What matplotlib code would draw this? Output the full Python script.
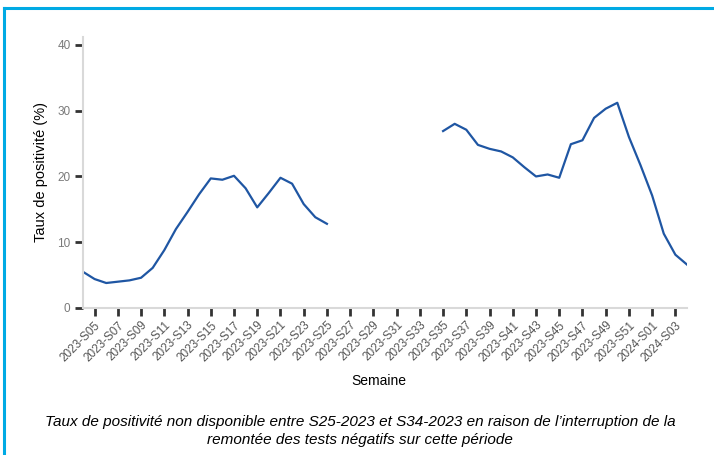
import numpy as np
import matplotlib
matplotlib.use('Agg')
from matplotlib import pyplot as plt
from matplotlib.lines import Line2D

# weeks 2023-S04 .. 2024-S04
weeks = ['2023-S%02d' % w for w in range(4, 53)] + ['2024-S%02d' % w for w in range(1, 5)]

# taux de positivite (%), NaN = non disponible (S26-S34)
taux_2023a = [5.5, 4.4, 3.8, 4.0, 4.2, 4.6, 6.1, 8.8, 12.0, 14.6, 17.3, 19.7,
              19.5, 20.1, 18.2, 15.3, 17.5, 19.8, 18.9, 15.8, 13.8, 12.8]
taux_gap = [np.nan] * 9
taux_2023b = [26.9, 28.0, 27.1, 24.8, 24.2, 23.8, 22.9, 21.4, 20.0, 20.3, 19.8,
              24.9, 25.5, 28.9, 30.3, 31.2, 26.0, 21.7]
taux_2024 = [17.1, 11.3, 8.1, 6.6]
taux = taux_2023a + taux_gap + taux_2023b + taux_2024

caption = ("Taux de positivité non disponible entre S25-2023 et S34-2023 en raison de l\u2019interruption de la\n"
           "remontée des tests négatifs sur cette période")

plt.rcParams['font.family'] = ['Liberation Sans', 'DejaVu Sans']

fig = plt.figure(figsize=(7.14, 4.55), dpi=100)
ax = fig.add_axes([83/714, 1-308/455, 604/714, 271/455])

x = np.arange(len(weeks))
ax.plot(x, taux, color='#1f56a3', lw=1.6)

ax.set_xlim(0, len(weeks)-1)
ax.set_ylim(0, 41.2)
ax.set_yticks([0, 10, 20, 30, 40])
ax.set_xticks(x[1::2])
ax.set_xticklabels(weeks[1::2], rotation=45, ha='right', rotation_mode='anchor',
                   fontsize=8.5, color='#555555')
ax.tick_params(axis='x', length=6, width=2, color='#333333', pad=2)
ax.tick_params(axis='y', length=6, width=2, color='#333333', labelsize=8.5,
               labelcolor='#7a7a7a', pad=3)

for s in ['top', 'right']:
    ax.spines[s].set_visible(False)
for s in ['left', 'bottom']:
    ax.spines[s].set_color('#d9d9d9')
    ax.spines[s].set_linewidth(1.5)

ax.set_xlabel('Semaine', fontsize=10)
ax.set_ylabel('Taux de positivité (%)', fontsize=10.5)
ax.xaxis.set_label_coords(0.49, -0.245)
ax.yaxis.set_label_coords(-0.058, 0.50)

fig.text(0.504, 0.053, caption, ha='center', va='center', style='italic',
         fontsize=11, linespacing=1.4)

# blue frame (top and left)
fig.add_artist(Line2D([4/714, 1], [1-8/455, 1-8/455], color='#00aae4', lw=2.2,
                      transform=fig.transFigure))
fig.add_artist(Line2D([4/714, 4/714], [0, 1-8/455], color='#00aae4', lw=2.2,
                      transform=fig.transFigure))

fig.savefig('out.png', dpi=100)
